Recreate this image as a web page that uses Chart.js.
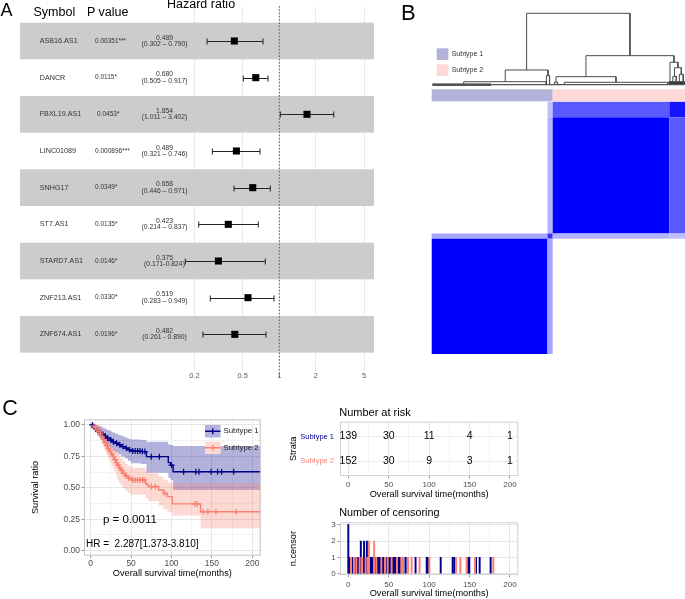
<!DOCTYPE html>
<html>
<head>
<meta charset="utf-8">
<script src="https://cdn.jsdelivr.net/npm/chart.js@4.4.1/dist/chart.umd.min.js"></script>
<style>
html,body{margin:0;padding:0;background:#fff;}
#wrap{position:relative;width:685px;height:599px;overflow:hidden;background:#fff;font-family:"Liberation Sans",Arial,Helvetica,sans-serif;}
#wrap canvas{position:absolute;}
.t{position:absolute;white-space:pre;line-height:1;color:#000;}
</style>
</head>
<body>
<div id="wrap">
  <canvas id="forest" width="380" height="392" style="left:0;top:0"></canvas>
  <canvas id="heat" width="305" height="380" style="left:380px;top:0"></canvas>
  <canvas id="km" width="300" height="209" style="left:0;top:390px"></canvas>
  <canvas id="risk" width="240" height="110" style="left:286px;top:390px"></canvas>
  <canvas id="cens" width="240" height="99" style="left:286px;top:500px"></canvas>
  <div class="t" style="left:0.5px;top:0.8px;font-size:18px">A</div>
  <div class="t" style="left:33.5px;top:5.7px;font-size:12.5px">Symbol</div>
  <div class="t" style="left:87px;top:5.7px;font-size:12.5px">P value</div>
  <div class="t" style="left:167px;top:-2.3px;font-size:12.5px">Hazard ratio</div>
  <div class="t" style="left:401px;top:2.1px;font-size:22px">B</div>
  <div class="t" style="left:2.3px;top:397.5px;font-size:21.5px">C</div>
  <div class="t" style="left:103px;top:513.6px;font-size:11.5px">p = 0.0011</div>
  <div class="t" style="left:86px;top:538.5px;font-size:10px">HR =  2.287[1.373-3.810]</div>
  <div class="t" style="left:339.2px;top:406.7px;font-size:11px">Number at risk</div>
  <div class="t" style="left:339.2px;top:506.9px;font-size:10.8px">Number of censoring</div>
</div>
<script>
// ---------------- DATA ----------------
// Panel A: forest plot
const symbols   = ['ASB16.AS1','DANCR','FBXL19.AS1','LINC01089','SNHG17','ST7.AS1','STARD7.AS1','ZNF213.AS1','ZNF674.AS1'];
const pValues   = ['0.00351***','0.0115*','0.0453*','0.000896***','0.0349*','0.0135*','0.0146*','0.0330*','0.0196*'];
const hrLabels  = ['0.489','0.680','1.854','0.489','0.658','0.423','0.375','0.519','0.482'];
const ciLabels  = ['(0.302 – 0.790)','(0.505 – 0.917)','(1.011 – 3.402)','(0.321 – 0.746)','(0.446 – 0.971)','(0.214 – 0.837)','(0.171-0.824)','(0.283 – 0.949)','(0.261 - 0.890)'];
const hrPlotted = [0.426,0.64,1.69,0.443,0.604,0.38,0.315,0.552,0.43];
const ciLow     = [0.254,0.505,1.02,0.281,0.424,0.217,0.168,0.27,0.235];
const ciHigh    = [0.734,0.807,2.81,0.693,0.843,0.671,0.767,0.904,0.777];
const hrTicks   = [0.2,0.5,1,2,5];

// Panel B: consensus matrix (block groups of samples) and dendrogram
const groupSizes   = [133,6,134,18];          // S1 core, S1 edge, S2 core, S2 edge
const consensus    = [[1.0,0.35,0,0],[0.35,0.8,0.3,0.25],[0,0.3,1.0,0.65],[0,0.25,0.65,0.92]];
const subtypeNames = ['Subtype 1','Subtype 2'];
const subtypeSizes = [139,152];
// each link: [left x, right x, merge height, left child height, right child height]
const dendroLinks = [
  [109.05,227.75,1.0,0.209,0.409],
  [84.5,133.6,0.209,0.046,0.13],
  [36.8,131.6,0.046,0.01,0.01],
  [131.8,135.4,0.13,0.01,0.01],
  [177.2,278.3,0.409,0.116,0.317],
  [142.8,211.7,0.116,0.04,0.038],
  [141,144.6,0.04,0.01,0.01],
  [152.3,271.1,0.038,0.01,0.01],
  [273.8,282.9,0.317,0.01,0.241],
  [279,286.75,0.241,0.12,0.15],
  [277,281,0.12,0.01,0.01],
  [284.5,289,0.15,0.01,0.01]
];

// Panel C: Kaplan-Meier
const kmTimes1 = [0,3,5,8,11,14,17,20,24,27,30,34,38,42,46,50,62,69,96,99,102];
const kmSurv1  = [1,0.985,0.97,0.955,0.94,0.925,0.91,0.895,0.88,0.867,0.855,0.842,0.828,0.815,0.803,0.793,0.788,0.748,0.70,0.68,0.628];
const kmUpper1 = [1,1,1,0.995,0.99,0.98,0.97,0.96,0.95,0.94,0.93,0.92,0.91,0.90,0.89,0.885,0.88,0.867,0.845,0.84,0.833];
const kmLower1 = [1,0.96,0.94,0.915,0.895,0.875,0.855,0.835,0.815,0.795,0.78,0.765,0.75,0.735,0.715,0.695,0.69,0.62,0.58,0.56,0.483];
const kmTimes2 = [0,3,5,7,9,11,13,15,17,19,21,23,25,27,29,31,33,35,37,40,43,46,50,68,71,84,90,95,101,136];
const kmSurv2  = [1,0.99,0.98,0.965,0.95,0.935,0.91,0.885,0.86,0.835,0.81,0.79,0.77,0.75,0.725,0.70,0.68,0.66,0.64,0.615,0.595,0.578,0.563,0.53,0.51,0.483,0.455,0.43,0.372,0.31];
const kmUpper2 = [1,1,1,1,0.99,0.98,0.965,0.945,0.925,0.905,0.885,0.87,0.85,0.83,0.81,0.79,0.77,0.755,0.735,0.71,0.69,0.675,0.66,0.635,0.615,0.59,0.565,0.545,0.536,0.536];
const kmLower2 = [1,0.97,0.955,0.935,0.91,0.885,0.855,0.825,0.795,0.765,0.735,0.71,0.68,0.655,0.63,0.60,0.56,0.54,0.52,0.495,0.475,0.46,0.445,0.415,0.395,0.36,0.33,0.305,0.28,0.178];
const kmEnd = 211;
const censMarks1 = [2,4,6,9,12,15,18,21,25,28,32,36,40,44,48,52,55,58,61,64,67,75,85,100,115,130,134,149,157,162,177];
const censMarks2 = [4,6,8,10,12,14,16,18,20,22,24,26,28,30,32,34,36,38,41,44,47,52,55,58,61,64,66,75,80,92,129,132,139,145,155,180];
const timeTicks = [0,25,50,75,100,125,150,175,200];
const survTicks = [0,0.125,0.25,0.375,0.5,0.625,0.75,0.875,1];

// Number at risk
const riskTimes = [0,50,100,150,200];
const risk1 = [139,30,11,4,1];
const risk2 = [152,30,9,3,1];

// Number of censoring
const censTimes1 = [0,1.7,5.4,8.3,11.2,12.4,15.5,19.5,23,27.3,28.9,30.1,33.4,36.3,38,39.2,42.5,43.7,47,50,51.6,55.3,56.9,58.6,61.9,63.9,68.1,71,83.2,97,98.5,114.3,129.1,131.1,148.4,149.7,158,162.5,176.1];
const censCount1 = [3,1,1,1,1,1,2,2,2,1,1,1,1,1,1,1,1,1,1,1,1,1,1,1,1,1,1,1,1,1,1,1,1,1,1,1,1,1,1];
const censTimes2 = [3.3,7,9.9,14,17,21.5,24.4,25.5,32,34.7,40.9,45.4,48.7,53.6,60.2,65.6,67.6,73.9,78.4,88.1,100.3,133.2,138.6,146.4,156.7,179.4];
const censCount2 = [1,1,1,1,1,1,1,2,2,1,1,1,1,1,1,1,1,1,1,1,1,1,1,1,1,1];
const censTicks = [0,0.5,1,1.5,2,2.5,3];

// ---------------- STYLE ----------------
const FF = '"Liberation Sans", Arial, Helvetica, sans-serif';
Chart.defaults.font.family = FF;
Chart.defaults.color = '#4d4d4d';
const NAVY = '#00008B', SALMON = '#FA8072';
const NAVY_F = 'rgba(0,0,139,0.3)', SALMON_F = 'rgba(250,128,114,0.3)';

function isMajor(v, step){ return Math.abs(v/step - Math.round(v/step)) < 1e-9; }
const gridC = step => c => (c.tick && isMajor(c.tick.value, step)) ? '#e6e6e6' : '#f3f3f3';
const tickC = step => c => (c.tick && isMajor(c.tick.value, step)) ? '#9a9a9a' : 'rgba(0,0,0,0)';
const setTicks = vals => s => { s.ticks = vals.map(v => ({value: v})); };
const frame = (color) => ({ id:'frame', afterDatasetsDraw(chart){
  const {ctx, chartArea:a} = chart; ctx.save(); ctx.strokeStyle = color; ctx.lineWidth = 1;
  ctx.strokeRect(a.left+0.5, a.top+0.5, a.right-a.left-1, a.bottom-a.top-1); ctx.restore(); }});
const base = {responsive:false, animation:false, events:[], plugins:{legend:{display:false}, tooltip:{enabled:false}}};

// ---------------- PANEL A ----------------
const forestPlugin = { id:'forestDecor', beforeDatasetsDraw(chart){
  const {ctx, chartArea:a, scales:{x, y}} = chart;
  ctx.save();
  symbols.forEach((s,i) => { if (i % 2 === 0) {
    const t = y.getPixelForValue(i+0.5), b = y.getPixelForValue(i+1.5);
    ctx.fillStyle = '#cccccc'; ctx.fillRect(a.left, t, a.right-a.left, b-t); } });
  const x1 = x.getPixelForValue(1);
  ctx.strokeStyle = '#444'; ctx.lineWidth = 0.9; ctx.setLineDash([1.5,1.8]);
  ctx.beginPath(); ctx.moveTo(x1, a.top-1); ctx.lineTo(x1, a.bottom+6); ctx.stroke(); ctx.setLineDash([]);
  ctx.strokeStyle = '#222'; ctx.lineWidth = 1;
  symbols.forEach((s,i) => {
    const yc = Math.round(y.getPixelForValue(i+1)) + 0.5, xl = x.getPixelForValue(ciLow[i]), xh = x.getPixelForValue(ciHigh[i]);
    ctx.beginPath(); ctx.moveTo(xl, yc); ctx.lineTo(xh, yc);
    ctx.moveTo(xl, yc-3); ctx.lineTo(xl, yc+3); ctx.moveTo(xh, yc-3); ctx.lineTo(xh, yc+3); ctx.stroke();
  });
  ctx.fillStyle = '#333'; ctx.textBaseline = 'middle';
  symbols.forEach((s,i) => {
    const yc = y.getPixelForValue(i+1);
    ctx.textAlign = 'left'; ctx.font = `7.2px ${FF}`; ctx.fillText(s, 39.7, yc);
    ctx.font = `6.5px ${FF}`; ctx.fillText(pValues[i], i === 2 ? 97 : 95, yc);
    ctx.textAlign = 'center'; ctx.font = `6.8px ${FF}`;
    ctx.fillText(hrLabels[i], 164.5, yc-3.3); ctx.fillText(ciLabels[i], 164.5, yc+3.2);
  });
  ctx.restore();
}};
new Chart(document.getElementById('forest'), {
  type:'scatter',
  data:{datasets:[{data: hrPlotted.map((v,i)=>({x:v, y:i+1})), pointStyle:'rect', pointRadius:5, pointHoverRadius:5,
    backgroundColor:'#000', borderColor:'#000', borderWidth:0}]},
  options:{...base, layout:{padding:{left:20, right:6, top:7, bottom:1}},
    scales:{
      x:{type:'logarithmic', min:0.00731, max:6.026, afterBuildTicks:setTicks(hrTicks), afterFit:s=>{s.height=20;},
         ticks:{callback:v=>String(v), color:'#5a5a5a', font:{size:7.5}, padding:0, autoSkip:false, maxRotation:0},
         grid:{color:'#e3e3e3', lineWidth:0.8, drawTicks:false}, border:{display:false}},
      y:{type:'linear', display:false, reverse:true, min:0.073, max:10.0}
    }},
  plugins:[forestPlugin]
});

// ---------------- PANEL B ----------------
const blue = v => { const c = Math.round(255*(1-v)); return `rgb(${c},${c},255)`; };
const heatPlugin = { id:'heat', beforeDatasetsDraw(chart){
  const {ctx, scales:{x, y}} = chart;
  ctx.save();
  const colStart = []; let acc = 0; groupSizes.forEach(s => { colStart.push(acc); acc += s; });
  const rowOrder = groupSizes.map((_,i)=>i).reverse();
  let racc = 0;
  rowOrder.forEach(r => {
    const r0 = racc, r1 = racc + groupSizes[r]; racc = r1;
    groupSizes.forEach((cs,c) => {
      const v = consensus[r][c]; if (v <= 0) return;
      const px0 = x.getPixelForValue(colStart[c]), px1 = x.getPixelForValue(colStart[c]+cs);
      const py0 = y.getPixelForValue(r0), py1 = y.getPixelForValue(r1);
      ctx.fillStyle = blue(v); ctx.fillRect(px0, py0, px1-px0, py1-py0);
    });
  });
  // annotation bar
  const cols = ['rgb(179,179,217)','rgb(255,217,215)'];
  let s0 = 0;
  subtypeSizes.forEach((n,k) => {
    const px0 = x.getPixelForValue(s0), px1 = x.getPixelForValue(s0+n);
    const py0 = y.getPixelForValue(-14.3), py1 = y.getPixelForValue(-0.5);
    ctx.fillStyle = cols[k]; ctx.fillRect(px0, py0, px1-px0, py1-py0); s0 += n;
  });
  // legend
  ctx.font = `7px ${FF}`; ctx.textBaseline = 'middle'; ctx.textAlign = 'left';
  subtypeNames.forEach((nm,k) => {
    const ty = 48.3 + k*16;
    ctx.fillStyle = cols[k]; ctx.fillRect(56.7, ty, 11.7, 11.7);
    ctx.fillStyle = '#333'; ctx.fillText(nm, 71.7, ty + 6);
  });
  ctx.restore();
}};
const dendroPts = [];
dendroLinks.forEach(([xl,xr,h,hl,hr]) => { dendroPts.push({x:xl,y:hl},{x:xl,y:h},{x:xr,y:h},{x:xr,y:hr},{x:xr,y:null}); });
new Chart(document.getElementById('heat'), {
  type:'scatter',
  data:{datasets:[
    {data:dendroPts, showLine:true, spanGaps:false, borderColor:'#4a4a4a', borderWidth:1, pointRadius:0, yAxisID:'yd'},
    {data:[{x:0.5,y:0.004},{x:290.5,y:0.004}], showLine:true, borderColor:'#555', borderWidth:1.3, pointRadius:0, yAxisID:'yd'},
    {data:[{x:1,y:0.006},{x:68,y:0.006}], showLine:true, borderColor:'#1a1a1a', borderWidth:2.2, pointRadius:0, yAxisID:'yd'},
    {data:[{x:272,y:0.03},{x:291,y:0.03}], showLine:true, borderColor:'#333', borderWidth:3, pointRadius:0, yAxisID:'yd'}
  ]},
  options:{...base, layout:{padding:{left:51.7, right:0, top:10, bottom:26}},
    scales:{
      x:{type:'linear', display:false, min:0, max:291},
      y:{type:'linear', display:false, reverse:true, min:-105.8, max:291},
      yd:{type:'linear', display:false, min:-3.752, max:1.046}
    }},
  plugins:[heatPlugin]
});

// ---------------- PANEL C: KM ----------------
const stepPts = (times, vals) => times.map((t,i)=>({x:t, y:vals[i]})).concat([{x:kmEnd, y:vals[vals.length-1]}]);
const stepAt = (times, vals, t) => { let v = vals[0]; times.forEach((tt,i)=>{ if (tt <= t) v = vals[i]; }); return v; };
const lineDs = (pts, color, order) => ({data:pts, showLine:true, stepped:true, borderColor:color, borderWidth:1.4, pointRadius:0, fill:false, order});
const bandDs = (pts, fill, bg, order) => ({data:pts, showLine:true, stepped:true, borderWidth:0, borderColor:'rgba(0,0,0,0)', pointRadius:0, fill, backgroundColor:bg, order});
const kmLegend = { id:'kmLegend', afterDatasetsDraw(chart){
  const ctx = chart.ctx; ctx.save();
  const keys = [[NAVY, NAVY_F, 35], [SALMON, SALMON_F, 51.5]];
  keys.forEach(([c,f,ty],k) => {
    ctx.fillStyle = '#fff'; ctx.fillRect(205, ty, 15.5, 12.5);
    ctx.fillStyle = f; ctx.fillRect(205, ty, 15.5, 12.5);
    ctx.strokeStyle = c; ctx.lineWidth = 1.4; const cy = ty + 6.25;
    ctx.beginPath(); ctx.moveTo(205, cy); ctx.lineTo(220.5, cy); ctx.moveTo(212.75, cy-3); ctx.lineTo(212.75, cy+3); ctx.stroke();
    ctx.fillStyle = '#222'; ctx.font = `7.8px ${FF}`; ctx.textBaseline = 'middle'; ctx.textAlign = 'left';
    ctx.fillText(subtypeNames[k], 223.5, cy);
  });
  ctx.restore();
}};
new Chart(document.getElementById('km'), {
  type:'scatter',
  data:{datasets:[
    {data: censMarks2.map(t=>({x:t, y:stepAt(kmTimes2, kmSurv2, t)})), pointStyle:'cross', pointRadius:3, borderColor:SALMON, borderWidth:1.2, order:1},
    {data: censMarks1.map(t=>({x:t, y:stepAt(kmTimes1, kmSurv1, t)})), pointStyle:'cross', pointRadius:3, borderColor:NAVY, borderWidth:1.2, order:2},
    lineDs(stepPts(kmTimes2, kmSurv2), SALMON, 3),
    lineDs(stepPts(kmTimes1, kmSurv1), NAVY, 4),
    bandDs(stepPts(kmTimes2, kmUpper2), '+1', SALMON_F, 5),
    bandDs(stepPts(kmTimes2, kmLower2), false, SALMON_F, 6),
    bandDs(stepPts(kmTimes1, kmUpper1), '+1', NAVY_F, 7),
    bandDs(stepPts(kmTimes1, kmLower1), false, NAVY_F, 8)
  ]},
  options:{...base, layout:{padding:{left:0, right:39.3, top:29.3, bottom:20.3}},
    scales:{
      x:{type:'linear', min:-8.3, max:210.4, afterBuildTicks:setTicks(timeTicks), afterFit:s=>{s.height=23;},
         ticks:{autoSkip:false, maxRotation:0, padding:0, color:'#4d4d4d', font:{size:8.5}, callback:v=>isMajor(v,50)?String(v):''},
         grid:{color:gridC(50), lineWidth:1, tickLength:2.5, tickColor:tickC(50)}, border:{display:false},
         title:{display:true, text:'Overall survival time(months)', color:'#000', font:{size:9.2}, padding:0}},
      y:{type:'linear', min:-0.04, max:1.045, afterBuildTicks:setTicks(survTicks), afterFit:s=>{s.width=84;},
         ticks:{padding:1.5, color:'#4d4d4d', font:{size:8.5}, callback:v=>isMajor(v,0.25)?v.toFixed(2):''},
         grid:{color:gridC(0.25), lineWidth:1, tickLength:2.5, tickColor:tickC(0.25)}, border:{display:false},
         title:{display:true, text:'Survival ratio', color:'#000', font:{size:9.2}, padding:{top:29.5, bottom:0}}}
    }},
  plugins:[frame('#c4c4c4'), kmLegend]
});

// ---------------- Number at risk ----------------
const riskText = { id:'riskText', afterDatasetsDraw(chart){
  const ctx = chart.ctx; ctx.save(); ctx.font = `10.5px ${FF}`; ctx.fillStyle = '#000'; ctx.textAlign = 'center'; ctx.textBaseline = 'middle';
  chart.data.datasets.forEach((ds,di) => { chart.getDatasetMeta(di).data.forEach((el,i) => { ctx.fillText(String(ds.counts[i]), el.x, el.y); }); });
  ctx.restore(); }};
new Chart(document.getElementById('risk'), {
  type:'scatter',
  data:{datasets:[
    {data: riskTimes.map(t=>({x:t, y:2})), counts: risk1, pointRadius:0},
    {data: riskTimes.map(t=>({x:t, y:1})), counts: risk2, pointRadius:0}
  ]},
  options:{...base, layout:{padding:{left:0, right:7.7, top:31.7, bottom:0}},
    scales:{
      x:{type:'linear', min:-10.27, max:210.3, afterBuildTicks:setTicks(timeTicks), afterFit:s=>{s.height=24;},
         ticks:{autoSkip:false, maxRotation:0, padding:1, color:'#4d4d4d', font:{size:8}, callback:v=>isMajor(v,50)?String(v):''},
         grid:{color:gridC(50), lineWidth:1, tickLength:2.5, tickColor:tickC(50)}, border:{display:false},
         title:{display:true, text:'Overall survival time(months)', color:'#000', font:{size:9.2}, padding:0}},
      y:{type:'linear', min:0.4, max:2.6, afterBuildTicks:setTicks([1,2]), afterFit:s=>{s.width=54;},
         ticks:{padding:6, font:{size:7.5}, color:c=>c.tick && c.tick.value===2 ? NAVY : SALMON, callback:v=>v===2?subtypeNames[0]:subtypeNames[1]},
         grid:{color:'#ececec', lineWidth:1, drawTicks:false}, border:{display:false},
         title:{display:true, text:'Strata', color:'#000', font:{size:9.2}, padding:{top:1.8, bottom:0}}}
    }},
  plugins:[frame('#d2d2d2'), riskText]
});

// ---------------- Number of censoring ----------------
new Chart(document.getElementById('cens'), {
  type:'bar',
  data:{datasets:[
    {data: censTimes2.map((t,i)=>({x:t, y:censCount2[i]})), backgroundColor:SALMON, borderWidth:0, barThickness:1.3, grouped:false},
    {data: censTimes1.map((t,i)=>({x:t, y:censCount1[i]})), backgroundColor:NAVY, borderWidth:0, barThickness:1.3, grouped:false}
  ]},
  options:{...base, layout:{padding:{left:0, right:7.7, top:22.3, bottom:0}},
    scales:{
      x:{type:'linear', min:-10.27, max:210.3, afterBuildTicks:setTicks(timeTicks), afterFit:s=>{s.height=24;},
         ticks:{autoSkip:false, maxRotation:0, padding:2, color:'#4d4d4d', font:{size:8}, callback:v=>isMajor(v,50)?String(v):''},
         grid:{color:gridC(50), lineWidth:1, tickLength:2.5, tickColor:tickC(50), offset:false}, border:{display:false}, offset:false,
         title:{display:true, text:'Overall survival time(months)', color:'#000', font:{size:9.2}, padding:0}},
      y:{type:'linear', min:-0.08, max:3.147, afterBuildTicks:setTicks(censTicks), afterFit:s=>{s.width=54;},
         ticks:{padding:1.8, color:'#4d4d4d', font:{size:8}, callback:v=>isMajor(v,1)?String(v):''},
         grid:{color:gridC(1), lineWidth:1, tickLength:2.5, tickColor:tickC(1)}, border:{display:false},
         title:{display:true, text:'n.censor', color:'#000', font:{size:9.2}, padding:{top:1.5, bottom:0}}}
    }},
  plugins:[frame('#d2d2d2')]
});
</script>
</body>
</html>
